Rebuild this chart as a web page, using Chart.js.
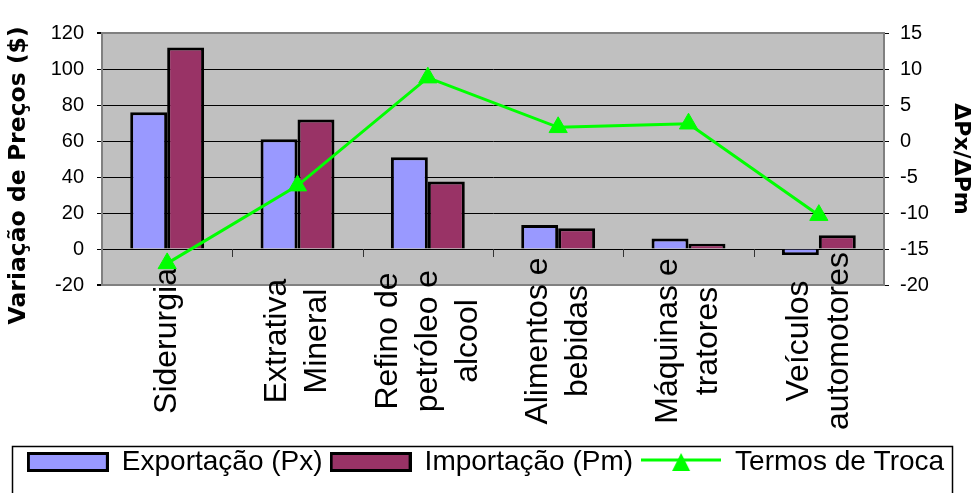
<!DOCTYPE html>
<html>
<head>
<meta charset="utf-8">
<script src="https://cdn.jsdelivr.net/npm/chart.js@4/dist/chart.umd.min.js"></script>
<style>
    html, body { margin: 0; padding: 0; background: #fff; }
    #wrap { width: 972px; height: 493px; }
</style>
</head>
<body>
<div id="wrap"><canvas id="chart" width="972" height="493"></canvas></div>
<script>
// --- DATA ---
const categories = [
    ["Siderurgia"],
    ["Extrativa", "Mineral"],
    ["Refino de", "petróleo e", "alcool"],
    ["Alimentos e", "bebidas"],
    ["Máquinas e", "tratores"],
    ["Veículos", "automotores"]
];
const exportacao = [76, 61, 51, 13.3, 5.9, -3.3];
const importacao = [112, 72, 37.5, 11.5, 2.9, 7.6];
const termosTroca = [-17, -6.2, 8.8, 1.9, 2.4, -10.3];
const leftTicks = { min: -20, max: 120, step: 20 };
const rightTicks = { min: -20, max: 15, step: 5 };
const seriesNames = ["Exportação (Px)", "Importação (Pm)", "Termos de Troca"];

const FONT = "'Liberation Sans', Arial, sans-serif";
const BOLD = "'DejaVu Sans', sans-serif";
const LABEL_MID = 341;

Chart.defaults.color = '#000';
Chart.defaults.font.family = FONT;

// --- legend swatches ---
function boxSwatch(fill) {
    const c = document.createElement('canvas');
    c.width = 82; c.height = 20;
    const g = c.getContext('2d');
    g.fillStyle = fill;
    g.fillRect(1.5, 1.5, 79, 17);
    g.lineWidth = 3;
    g.strokeStyle = '#000';
    g.strokeRect(1.5, 1.5, 79, 17);
    return c;
}
function lineSwatch() {
    const c = document.createElement('canvas');
    c.width = 80; c.height = 22;
    const g = c.getContext('2d');
    g.strokeStyle = '#00ff00';
    g.lineWidth = 3;
    g.beginPath(); g.moveTo(0, 9); g.lineTo(80, 9); g.stroke();
    g.fillStyle = '#00ff00';
    g.beginPath(); g.moveTo(40, 2); g.lineTo(49, 20); g.lineTo(31, 20); g.closePath(); g.fill();
    return c;
}
const swatches = [boxSwatch('#9999ff'), boxSwatch('#993366'), lineSwatch()];

// --- plugins ---
const plotBg = {
    id: 'plotBg',
    beforeDraw(chart) {
        const a = chart.chartArea, ctx = chart.ctx;
        ctx.save();
        ctx.fillStyle = '#c0c0c0';
        ctx.fillRect(a.left, a.top, a.right - a.left, a.bottom - a.top);
        ctx.restore();
    }
};

// centre the rotated category labels like Excel does
const centreLabels = {
    id: 'centreLabels',
    beforeDraw(chart) {
        const sc = chart.scales.x;
        sc.getLabelItems().forEach((it, i) => {
            if (it.done) return;
            const n = Array.isArray(it.label) ? it.label.length : 1;
            const lh = it.font.lineHeight;
            it.options.translation[0] = sc.getPixelForTick(i) - (n - 1) * lh / 2 - it.textOffset;
            it.options.translation[1] = LABEL_MID;
            it.options.textAlign = 'center';
            it.options.textBaseline = 'middle';
            it.done = true;
        });
    }
};

const zeroTicks = {
    id: 'zeroTicks',
    afterDatasetsDraw(chart) {
        const x = chart.scales.x, y0 = Math.round(chart.scales.y.getPixelForValue(0));
        const ctx = chart.ctx;
        ctx.save();
        ctx.strokeStyle = '#333';
        ctx.lineWidth = 1;
        ctx.beginPath();
        for (let i = 1; i < categories.length; i++) {
            const px = Math.round((x.getPixelForTick(i - 1) + x.getPixelForTick(i)) / 2) + 0.5;
            ctx.moveTo(px, y0);
            ctx.lineTo(px, y0 + 8);
        }
        ctx.stroke();
        ctx.restore();
    }
};

const legendFrame = {
    id: 'legendFrame',
    afterDraw(chart) {
        const ctx = chart.ctx;
        ctx.save();
        ctx.strokeStyle = '#000';
        ctx.lineWidth = 1.5;
        ctx.strokeRect(12.5, 446.5, 940, 80);
        ctx.restore();
    }
};

const edge = v => v === leftTicks.max || v === leftTicks.min;

new Chart(document.getElementById('chart'), {
    data: {
        labels: categories,
        datasets: [
            {
                type: 'line',
                label: seriesNames[2],
                data: termosTroca,
                yAxisID: 'y1',
                borderColor: '#00ff00',
                borderWidth: 3,
                pointStyle: 'triangle',
                pointRadius: 10.5,
                pointBackgroundColor: '#00ff00',
                pointBorderColor: '#00ff00',
                pointBorderWidth: 1,
                tension: 0,
                order: 0
            },
            {
                type: 'bar',
                label: seriesNames[0],
                data: exportacao,
                yAxisID: 'y',
                backgroundColor: '#9999ff',
                borderColor: '#000',
                borderWidth: 3,
                categoryPercentage: 0.567,
                barPercentage: 1,
                order: 1
            },
            {
                type: 'bar',
                label: seriesNames[1],
                data: importacao,
                yAxisID: 'y',
                backgroundColor: '#993366',
                borderColor: '#000',
                borderWidth: 3,
                categoryPercentage: 0.567,
                barPercentage: 1,
                order: 1
            }
        ]
    },
    options: {
        responsive: false,
        animation: false,
        devicePixelRatio: 1,
        layout: { padding: { left: 0, right: 0, top: 33, bottom: 7 } },
        plugins: {
            tooltip: { enabled: false },
            legend: {
                position: 'bottom',
                labels: {
                    usePointStyle: true,
                    pointStyleWidth: 80,
                    boxHeight: 20,
                    padding: 8,
                    color: '#000',
                    font: { family: FONT, size: 28 },
                    generateLabels: () => seriesNames.map((name, i) => ({
                        text: name,
                        pointStyle: swatches[i],
                        fillStyle: '#fff',
                        strokeStyle: '#000',
                        lineWidth: 0,
                        fontColor: '#000',
                        hidden: false,
                        datasetIndex: i
                    }))
                }
            }
        },
        scales: {
            x: {
                grid: { display: false },
                border: { display: true, color: '#808080', width: 2 },
                ticks: {
                    minRotation: 90,
                    maxRotation: 90,
                    mirror: true,
                    autoSkip: false,
                    color: '#000',
                    font: { family: FONT, size: 32, lineHeight: 40 / 32 }
                },
                afterFit: s => { s.height = 155; }
            },
            y: {
                position: 'left',
                min: leftTicks.min,
                max: leftTicks.max,
                ticks: { stepSize: leftTicks.step, padding: 13, color: '#000', font: { family: FONT, size: 20 } },
                grid: {
                    color: c => (c.tick && edge(c.tick.value)) ? '#808080' : '#000',
                    lineWidth: c => (c.tick && edge(c.tick.value)) ? 2 : 1,
                    tickColor: '#000',
                    tickLength: 5
                },
                border: { color: '#808080', width: 2 },
                title: {
                    display: true,
                    // trailing spaces push the centred title down a little, as in the original
                    text: 'Variação de Preços ($)    ',
                    color: '#000',
                    font: { family: BOLD, size: 23.5, weight: 'bold', lineHeight: 1.2 },
                    padding: { top: 5, bottom: 0 }
                },
                afterFit: s => { s.width = 102; }
            },
            y1: {
                position: 'right',
                min: rightTicks.min,
                max: rightTicks.max,
                ticks: { stepSize: rightTicks.step, padding: 11, color: '#000', font: { family: FONT, size: 20 } },
                grid: { drawOnChartArea: false, tickColor: '#000', tickLength: 5 },
                border: { color: '#808080', width: 2 },
                title: {
                    display: true,
                    text: 'ΔPx/ΔPm',
                    color: '#000',
                    font: { family: BOLD, size: 22, weight: 'bold', lineHeight: 1 },
                    padding: { top: 0, bottom: 0 }
                },
                afterFit: s => { s.width = 88; }
            }
        }
    },
    plugins: [plotBg, centreLabels, zeroTicks, legendFrame]
});
</script>
</body>
</html>
